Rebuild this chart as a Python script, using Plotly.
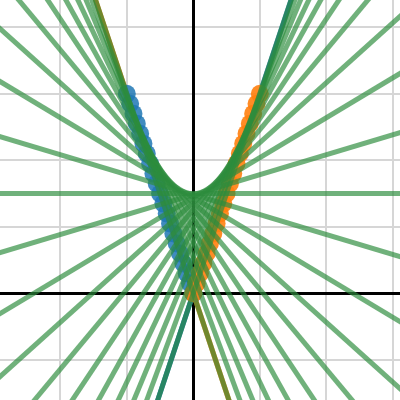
import plotly.graph_objects as go

# Points along the two control segments (P0->P1 and P1->P2)
blue_x = [-1.0, -0.95, -0.9, -0.85, -0.8, -0.75, -0.7, -0.65, -0.6, -0.55, -0.5,
          -0.45, -0.4, -0.35, -0.3, -0.25, -0.2, -0.15, -0.1, -0.05, 0.0]
blue_y = [3.0, 2.85, 2.7, 2.55, 2.4, 2.25, 2.1, 1.95, 1.8, 1.65, 1.5,
          1.35, 1.2, 1.05, 0.9, 0.75, 0.6, 0.45, 0.3, 0.15, 0.0]
orange_x = [0.0, 0.05, 0.1, 0.15, 0.2, 0.25, 0.3, 0.35, 0.4, 0.45, 0.5,
            0.55, 0.6, 0.65, 0.7, 0.75, 0.8, 0.85, 0.9, 0.95, 1.0]
orange_y = [0.0, 0.15, 0.3, 0.45, 0.6, 0.75, 0.9, 1.05, 1.2, 1.35, 1.5,
            1.65, 1.8, 1.95, 2.1, 2.25, 2.4, 2.55, 2.7, 2.85, 3.0]

EXT = 30  # extension factor for drawing the connecting lines across the plot

fig = go.Figure()

def extended(xa, ya, xb, yb):
    dx, dy = xb - xa, yb - ya
    return [xa - EXT * dx, xb + EXT * dx], [ya - EXT * dy, yb + EXT * dy]

# outer control lines (underneath)
lx, ly = extended(orange_x[0], orange_y[0], orange_x[-1], orange_y[-1])
fig.add_trace(go.Scatter(x=lx, y=ly, mode="lines",
                         line=dict(color="#1f77b4", width=5), hoverinfo="skip"))
lx, ly = extended(blue_x[0], blue_y[0], blue_x[-1], blue_y[-1])
fig.add_trace(go.Scatter(x=lx, y=ly, mode="lines",
                         line=dict(color="#ff7f0e", width=5), hoverinfo="skip"))

fig.add_trace(go.Scatter(x=blue_x, y=blue_y, mode="markers",
                         marker=dict(color="#1f77b4", size=18, opacity=0.85)))
fig.add_trace(go.Scatter(x=orange_x, y=orange_y, mode="markers",
                         marker=dict(color="#ff7f0e", size=18, opacity=0.9)))

for bx, by, ox, oy in zip(blue_x, blue_y, orange_x, orange_y):
    lx, ly = extended(bx, by, ox, oy)
    fig.add_trace(go.Scatter(x=lx, y=ly, mode="lines",
                             line=dict(color="rgba(44,140,60,0.68)", width=5),
                             hoverinfo="skip"))

axis_common = dict(showticklabels=False, ticks="", dtick=1,
                   showgrid=True, gridcolor="#d6d6d6", gridwidth=2,
                   zeroline=True, zerolinecolor="black", zerolinewidth=3,
                   showline=False)
fig.update_layout(
    width=400, height=400,
    margin=dict(l=0, r=0, t=0, b=0),
    showlegend=False,
    plot_bgcolor="white", paper_bgcolor="white",
    xaxis=dict(range=[-2.907, 3.108], **axis_common),
    yaxis=dict(range=[-1.604, 4.41], **axis_common),
)

fig.write_html("out.html",
               config={"displayModeBar": False},
               post_script="document.body.style.margin='0px';document.body.style.overflow='hidden';")
